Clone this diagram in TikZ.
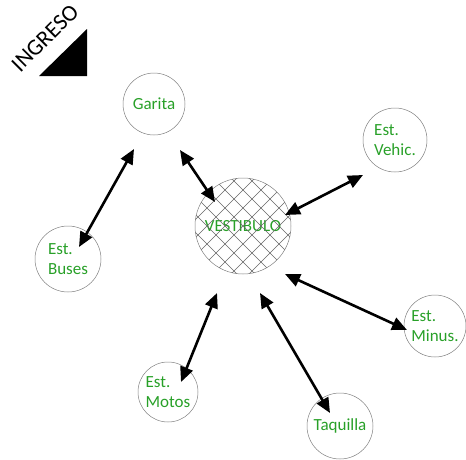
\documentclass[tikz,border=0pt]{standalone}
\usepackage{fontspec}
\setmainfont{Carlito}
\usetikzlibrary{arrows.meta,calc}
\definecolor{labelgreen}{RGB}{40,160,40}
\begin{document}
\begin{tikzpicture}[x=1pt,y=-1pt,
  area/.style={circle,draw=gray,line width=0.5pt,inner sep=0pt,text=labelgreen,
    align=left,font=\fontsize{17}{20}\selectfont},
  hatch/.style={gray!80!black,line width=0.4pt},
  link/.style={{Triangle[length=15pt,width=13pt]}-{Triangle[length=15pt,width=13pt]},line width=2.6pt}]
\useasboundingbox (0,0) rectangle (466,459);
% entrance mark
\fill (39,76) -- (87,76) -- (87,29) -- cycle;
\node[rotate=45,font=\fontsize{23}{25}\selectfont] (ingreso) at (45,38) {INGRESO};
% areas
\node[area,minimum size=62pt] (garita) at (154,104) {Garita};
\node[area,minimum size=96pt] (vestibulo) at (243,226) {VESTIBULO};
\node[area,minimum size=64pt] (vehic) at (395,140) {Est.\\Vehic.};
\node[area,minimum size=66pt] (buses) at (68,259) {Est.\\Buses};
\node[area,minimum size=62pt] (minus) at (435,326) {Est.\\Minus.};
\node[area,minimum size=60pt] (motos) at (168,392) {Est.\\Motos};
\node[area,minimum size=66pt] (taquilla) at (340,426) {Taquilla};
% cross hatch
\begin{scope}
\clip (vestibulo.center) circle (48pt);
\foreach \d in {-126,-108,...,126} {
  \draw[hatch] ($(vestibulo)+(\d-60,-60)$) -- ++(120,120);
  \draw[hatch] ($(vestibulo)+(\d-60,60)$) -- ++(120,-120);
}
\end{scope}
% links
\draw[link] ($(garita)+(-20,45)$) -- ($(buses)+(11,-12)$);
\draw[link] ($(garita)+(26,46)$) -- ($(vestibulo)+(-28,-24)$);
\draw[link] ($(vestibulo)+(42,-11)$) -- ($(vehic)+(-32,35)$);
\draw[link] ($(vestibulo)+(42,48)$) -- ($(minus)+(-28,4)$);
\draw[link] ($(vestibulo)+(-26,67)$) -- ($(motos)+(13,-10)$);
\draw[link] ($(vestibulo)+(17,67)$) -- ($(taquilla)+(-10,-13)$);
\end{tikzpicture}
\end{document}
